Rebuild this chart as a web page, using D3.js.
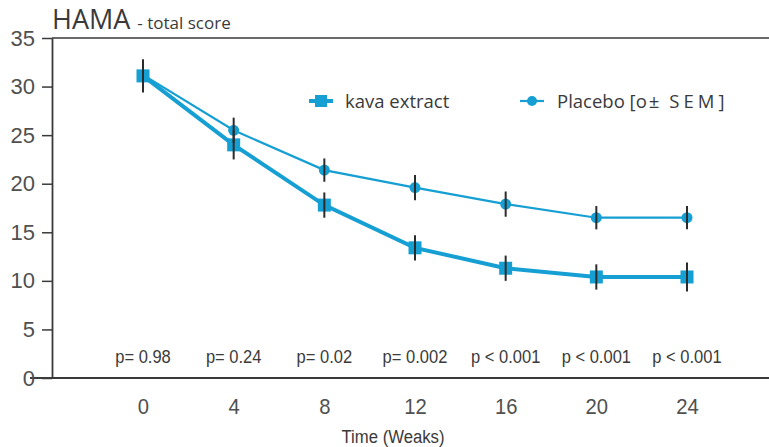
<!DOCTYPE html>
<html>
<head>
<meta charset="utf-8">
<script src="https://cdn.jsdelivr.net/npm/d3@7"></script>
<style>
  body { margin: 0; background: #fff; }
  svg { display: block; }
</style>
</head>
<body>
<svg id="chart" width="769" height="447"></svg>
<script>
// HAMA total score over time, kava extract vs placebo (mean ± SEM)
const weeks = [0, 4, 8, 12, 16, 20, 24];
const kavaMean = [31.1, 24.0, 17.8, 13.4, 11.3, 10.4, 10.4];
const kavaSem = [1.7, 1.5, 1.3, 1.3, 1.3, 1.3, 1.5];
const placeboMean = [31.2, 25.5, 21.4, 19.6, 17.9, 16.5, 16.5];
const placeboSem = [1.3, 1.3, 1.2, 1.3, 1.3, 1.2, 1.2];
const pValues = ["p= 0.98", "p= 0.24", "p= 0.02", "p= 0.002", "p < 0.001", "p < 0.001", "p < 0.001"];
const yTicks = [0, 5, 10, 15, 20, 25, 30, 35];

const lineColor = "#159fd3";
const textColor = "#3a3a3a";
const axisColor = "#3a3a3a";
const sans = "'Liberation Sans', Arial, sans-serif";
const humanist = "'Open Sans', 'Noto Sans', sans-serif";

const svg = d3.select("#chart");

const x = d3.scaleLinear().domain([0, 24]).range([143, 687]);
const y = d3.scaleLinear().domain([0, 35]).range([378, 38]);

// narrow text: horizontal squeeze around the anchor point
function narrowText(sel, px, py, squeeze) {
  return sel.attr("text-anchor", "middle")
    .attr("transform", (d, i) => {
      const xx = typeof px === "function" ? px(d, i) : px;
      return `translate(${xx},${py}) scale(${squeeze},1)`;
    });
}

// frame: top rule and bottom baseline
svg.append("line").attr("x1", 52).attr("x2", 769).attr("y1", y(35)).attr("y2", y(35))
  .attr("stroke", axisColor).attr("stroke-width", 1.6);
svg.append("line").attr("x1", 30).attr("x2", 769).attr("y1", y(0)).attr("y2", y(0))
  .attr("stroke", axisColor).attr("stroke-width", 1.8);

// y axis
const yAxis = d3.axisLeft(y).tickValues(yTicks).tickSize(10).tickPadding(7).tickSizeOuter(0);
const yg = svg.append("g").attr("transform", "translate(52,0)").call(yAxis);
yg.select(".domain").attr("stroke", axisColor).attr("stroke-width", 1.8);
yg.selectAll(".tick line").attr("stroke", axisColor).attr("stroke-width", 1.5);
yg.selectAll(".tick text")
  .attr("fill", "#505050").style("font-family", sans).style("font-size", "22px");

// x axis (labels only)
const xAxis = d3.axisBottom(x).tickValues(weeks).tickSize(0).tickPadding(20);
const xg = svg.append("g").attr("transform", `translate(0,${y(0)})`).call(xAxis);
xg.select(".domain").remove();
xg.selectAll(".tick text")
  .attr("fill", "#505050").style("font-family", sans).style("font-size", "22px")
  .attr("transform", "scale(0.92,1)");

// axis title
narrowText(svg.append("text"), 393, 443, 0.88)
  .attr("fill", textColor).style("font-family", sans).style("font-size", "19px")
  .text("Time (Weaks)");

// chart title
const title = svg.append("text").attr("x", 52).attr("y", 29).attr("fill", textColor)
  .style("font-family", humanist);
title.append("tspan").style("font-size", "27px").text("HAMA");
title.append("tspan").style("font-size", "17px").attr("dx", 7).text("- total score");

// p-values per visit
narrowText(svg.append("g").selectAll("text").data(weeks).join("text"), d => x(d), 363, 0.87)
  .attr("fill", textColor).style("font-family", sans).style("font-size", "19px")
  .text((d, i) => pValues[i]);

const kava = weeks.map((w, i) => ({ w, m: kavaMean[i], s: kavaSem[i] }));
const placebo = weeks.map((w, i) => ({ w, m: placeboMean[i], s: placeboSem[i] }));

const line = d3.line().x(d => x(d.w)).y(d => y(d.m));

// placebo series
svg.append("path").datum(placebo).attr("d", line).attr("fill", "none")
  .attr("stroke", lineColor).attr("stroke-width", 2.2);
// kava series
svg.append("path").datum(kava).attr("d", line).attr("fill", "none")
  .attr("stroke", lineColor).attr("stroke-width", 4);

svg.append("g").selectAll("circle").data(placebo).join("circle")
  .attr("cx", d => x(d.w)).attr("cy", d => y(d.m)).attr("r", 5.5)
  .attr("fill", lineColor);
svg.append("g").selectAll("rect").data(kava).join("rect")
  .attr("x", d => x(d.w) - 6.5).attr("y", d => y(d.m) - 6.5)
  .attr("width", 13).attr("height", 13).attr("fill", lineColor);

// SEM error bars
const bars = svg.append("g").attr("stroke", "#2b2b2b").attr("stroke-width", 2);
bars.selectAll("line.p").data(placebo).join("line").attr("class", "p")
  .attr("x1", d => x(d.w)).attr("x2", d => x(d.w))
  .attr("y1", d => y(d.m + d.s)).attr("y2", d => y(d.m - d.s));
bars.selectAll("line.k").data(kava).join("line").attr("class", "k")
  .attr("x1", d => x(d.w)).attr("x2", d => x(d.w))
  .attr("y1", d => y(d.m + d.s)).attr("y2", d => y(d.m - d.s));

// legend
const legend = svg.append("g")
  .style("font-family", humanist).style("font-size", "18.5px");
legend.append("line").attr("x1", 309).attr("x2", 333).attr("y1", 101).attr("y2", 101)
  .attr("stroke", lineColor).attr("stroke-width", 4);
legend.append("rect").attr("x", 315).attr("y", 95).attr("width", 12).attr("height", 12)
  .attr("fill", lineColor);
legend.append("text").attr("x", 345).attr("y", 108).attr("fill", textColor).text("kava extract");

legend.append("line").attr("x1", 520).attr("x2", 544).attr("y1", 101).attr("y2", 101)
  .attr("stroke", lineColor).attr("stroke-width", 2.2);
legend.append("circle").attr("cx", 532).attr("cy", 101).attr("r", 5).attr("fill", lineColor);
const pl = legend.append("text").attr("x", 557).attr("y", 108).attr("fill", textColor);
pl.append("tspan").text("Placebo [o");
pl.append("tspan").attr("dx", 2).text("\u00b1");
pl.append("tspan").attr("dx", 10).style("letter-spacing", "4px").text("SEM");
pl.append("tspan").text("]");
</script>
</body>
</html>
